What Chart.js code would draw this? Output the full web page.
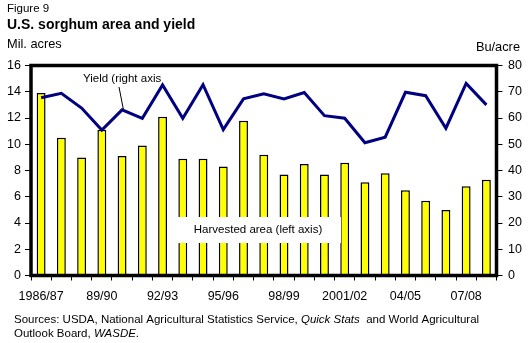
<!DOCTYPE html>
<html>
<head>
<meta charset="utf-8">
<script src="https://cdn.jsdelivr.net/npm/chart.js@4"></script>
<style>
  html, body { margin: 0; padding: 0; background: #fff; }
  canvas { display: block; }
</style>
</head>
<body>
<canvas id="chart" width="530" height="343"></canvas>
<script>
    'use strict';

    // --- data ---
    const seasons = ['1986/87', '87/88', '88/89', '89/90', '90/91', '91/92', '92/93', '93/94',
        '94/95', '95/96', '96/97', '97/98', '98/99', '99/00', '2000/01', '2001/02', '02/03',
        '03/04', '04/05', '05/06', '06/07', '07/08', '08/09'];
    const shownSeasons = ['1986/87', '89/90', '92/93', '95/96', '98/99', '2001/02', '04/05', '07/08'];
    const harvestedArea = [13.9, 10.5, 9.0, 11.1, 9.1, 9.9, 12.1, 8.9, 8.9, 8.3, 11.8, 9.2,
        7.7, 8.5, 7.7, 8.6, 7.1, 7.8, 6.5, 5.7, 5.0, 6.8, 7.3];
    const yieldPerAcre = [67.7, 69.4, 63.8, 55.4, 63.1, 59.9, 72.6, 59.9, 72.7, 55.6, 67.3, 69.2,
        67.3, 69.7, 60.9, 59.9, 50.6, 52.7, 69.8, 68.5, 56.1, 73.2, 65.0];

    const FONT = "'Liberation Sans', Arial, sans-serif";
    const tickFont = { family: FONT, size: 12.5 };

    // titles, notes and the heavy frame round the plot
    const decorations = {
        id: 'decorations',
        afterDatasetsDraw(chart) {
            const { ctx, chartArea: a } = chart;
            ctx.save();

            // white label box over the bars
            ctx.fillStyle = '#fff';
            ctx.fillRect(176, 217, 165, 26);
            ctx.fillStyle = '#000';
            ctx.font = `11.5px ${FONT}`;
            ctx.textAlign = 'center';
            ctx.textBaseline = 'middle';
            ctx.fillText('Harvested area (left axis)', 258, 230);

            ctx.textAlign = 'left';
            ctx.fillText('Yield (right axis', 83, 78.5);
            ctx.strokeStyle = '#000';
            ctx.lineWidth = 1;
            ctx.beginPath();
            ctx.moveTo(119, 87);
            ctx.lineTo(123.5, 110);
            ctx.stroke();

            ctx.lineWidth = 3.5;
            ctx.strokeRect(a.left, a.top, a.right - a.left, a.bottom - a.top);
            ctx.restore();
        },
        afterDraw(chart) {
            const { ctx } = chart;
            ctx.save();
            ctx.fillStyle = '#000';
            ctx.textBaseline = 'alphabetic';
            ctx.textAlign = 'left';
            ctx.font = `11.5px ${FONT}`;
            ctx.fillText('Figure 9', 7, 12);
            ctx.font = `bold 14px ${FONT}`;
            ctx.fillText('U.S. sorghum area and yield', 7, 29);
            ctx.font = `12.8px ${FONT}`;
            ctx.fillText('Mil. acres', 7, 48);
            ctx.textAlign = 'right';
            ctx.fillText('Bu/acre', 520, 51);

            // source note, with italic titles
            ctx.textAlign = 'left';
            const line = (parts, x, y) => {
                parts.forEach(([txt, italic]) => {
                    ctx.font = `${italic ? 'italic ' : ''}11.5px ${FONT}`;
                    ctx.fillText(txt, x, y);
                    x += ctx.measureText(txt).width;
                });
            };
            line([['Sources: USDA, National Agricultural Statistics Service, ', false],
                ['Quick Stats', true], ['  and World Agricultural', false]], 14, 323);
            line([['Outlook Board, ', false], ['WASDE', true], ['.', false]], 14, 337);
            ctx.restore();
        }
    };

    new Chart(document.getElementById('chart'), {
        data: {
            labels: seasons,
            datasets: [{
                type: 'line',
                label: 'Yield',
                data: yieldPerAcre,
                yAxisID: 'y1',
                borderColor: '#000080',
                borderWidth: 3,
                pointRadius: 0,
                tension: 0,
                order: 0
            }, {
                type: 'bar',
                label: 'Harvested area',
                data: harvestedArea,
                yAxisID: 'y',
                backgroundColor: '#ffff00',
                borderColor: '#000',
                borderWidth: 1.5,
                barPercentage: 0.44,
                categoryPercentage: 1,
                order: 1
            }]
        },
        options: {
            responsive: false,
            animation: false,
            devicePixelRatio: 1,
            layout: { padding: { top: 65.5 } },
            plugins: { legend: { display: false }, tooltip: { enabled: false } },
            scales: {
                x: {
                    grid: { offset: true, drawOnChartArea: false, tickLength: 5, color: '#000' },
                    border: { display: false },
                    ticks: {
                        autoSkip: false, maxRotation: 0, padding: 9, color: '#000', font: tickFont,
                        callback(value) {
                            const lab = this.getLabelForValue(value);
                            return shownSeasons.includes(lab) ? lab : '';
                        }
                    },
                    afterFit(s) { s.height = 67.5; }
                },
                y: {
                    position: 'left', min: 0, max: 16,
                    grid: { drawOnChartArea: false, tickLength: 6, color: '#000' },
                    border: { display: false },
                    ticks: { stepSize: 2, padding: 4, color: '#000', font: tickFont },
                    afterFit(s) { s.width = 31; }
                },
                y1: {
                    position: 'right', min: 0, max: 80,
                    grid: { drawOnChartArea: false, tickLength: 6, color: '#000' },
                    border: { display: false },
                    ticks: { stepSize: 10, padding: 5.5, color: '#000', font: tickFont },
                    afterFit(s) { s.width = 33.5; }
                }
            }
        },
        plugins: [decorations]
    });
</script>
</body>
</html>
